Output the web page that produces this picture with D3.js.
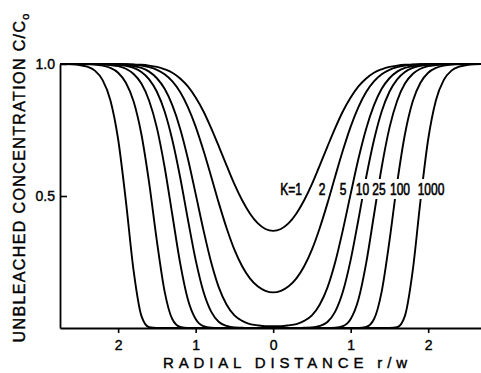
<!DOCTYPE html>
<html>
<head>
<meta charset="utf-8">
<script src="https://cdn.jsdelivr.net/npm/d3@7"></script>
<style>
  body { margin: 0; background: #fff; }
  svg { display: block; }
</style>
</head>
<body>
<script>
// radial distance r/w from the centre of the bleached spot (profiles are symmetric)
var dist = [0, 0.1, 0.2, 0.3, 0.4, 0.5, 0.6, 0.7, 0.8, 0.9,
            1.0, 1.1, 1.2, 1.3, 1.4, 1.5, 1.6, 1.7, 1.8, 1.9,
            2.0, 2.1, 2.2, 2.3, 2.4, 2.5, 2.6, 2.7, 2.8];

// unbleached concentration C/Co
var k1    = [0.368,0.375,0.397,0.434,0.484,0.545,0.615,0.687,0.757,0.821,0.873,0.915,0.945,0.967,0.980,0.989,0.994,0.997,0.998,0.999,1,1,1,1,1,1,1,1,1];
var k2    = [0.135,0.141,0.158,0.188,0.234,0.297,0.378,0.472,0.574,0.673,0.763,0.837,0.894,0.934,0.961,0.978,0.988,0.994,0.997,0.999,0.999,1,1,1,1,1,1,1,1];
var k5    = [0.007,0.007,0.010,0.015,0.027,0.048,0.088,0.153,0.249,0.372,0.508,0.641,0.755,0.843,0.906,0.946,0.971,0.985,0.992,0.996,0.998,0.999,1,1,1,1,1,1,1];
var k10   = [0,0,0,0,0.001,0.002,0.008,0.023,0.062,0.138,0.258,0.411,0.571,0.711,0.820,0.895,0.942,0.970,0.985,0.993,0.997,0.999,0.999,1,1,1,1,1,1];
var k25   = [0,0,0,0,0,0,0,0,0.001,0.007,0.034,0.108,0.246,0.427,0.609,0.758,0.861,0.926,0.962,0.982,0.992,0.996,0.998,0.999,1,1,1,1,1];
var k100  = [0,0,0,0,0,0,0,0,0,0,0,0,0.004,0.033,0.138,0.329,0.550,0.734,0.858,0.929,0.967,0.985,0.994,0.998,0.999,1,1,1,1];
var k1000 = [0,0,0,0,0,0,0,0,0,0,0,0,0,0,0,0,0.003,0.046,0.216,0.481,0.715,0.863,0.939,0.975,0.990,0.996,0.999,1,1];

var series = [k1, k2, k5, k10, k25, k100, k1000];
var curveLabels = ["K=1", "2", "5", "10", "25", "100", "1000"];

var xTicks = [-2, -1, 0, 1, 2];
var yTicks = [0.5, 1.0];

// set the dimensions
var width = 481, height = 373;

var svg = d3.select("body").append("svg")
    .attr("width", width)
    .attr("height", height);

// scales (pixel per r/w unit ~77.5)
var x = d3.scaleLinear().domain([-2.75, 2.72]).range([60, 484]);
var y = d3.scaleLinear().domain([0, 1]).range([328, 64]);

svg.append("clipPath")
    .attr("id", "plotclip")
  .append("rect")
    .attr("x", 60).attr("y", 40)
    .attr("width", 430).attr("height", 300);

// symmetric profile: mirror the distances onto both sides of the centre
function profile(vals) {
  var pts = [];
  for (var i = dist.length - 1; i > 0; i--) pts.push([-dist[i], vals[i]]);
  for (var j = 0; j < dist.length; j++) pts.push([dist[j], vals[j]]);
  return pts;
}

var line = d3.line()
    .curve(d3.curveMonotoneX)
    .x(function(d) { return x(d[0]); })
    .y(function(d) { return y(d[1]); });

svg.append("g")
    .attr("clip-path", "url(#plotclip)")
  .selectAll("path")
    .data(series)
    .enter()
    .append("path")
    .attr("d", function(d) { return line(profile(d)); })
    .attr("fill", "none")
    .attr("stroke", "#000")
    .attr("stroke-width", 1.9);

// x axis
var xAxis = svg.append("g")
    .attr("transform", "translate(0," + y(0) + ")")
    .call(d3.axisBottom(x)
      .tickValues(xTicks)
      .tickFormat(function(d) { return Math.abs(d); })
      .tickSize(5)
      .tickSizeOuter(0)
      .tickPadding(7));

// y axis
var yAxis = svg.append("g")
    .attr("transform", "translate(" + x.range()[0] + ",0)")
    .call(d3.axisLeft(y)
      .tickValues(yTicks)
      .tickFormat(d3.format(".1f"))
      .tickSize(-7)
      .tickSizeOuter(0)
      .tickPadding(5));

[xAxis, yAxis].forEach(function(g) {
  g.select(".domain").attr("stroke", "#000").attr("stroke-width", 1.8);
  g.selectAll(".tick line").attr("stroke", "#000").attr("stroke-width", 1.6);
  g.selectAll(".tick text")
      .attr("fill", "#000")
      .attr("stroke", "#000")
      .attr("stroke-width", 0.4)
      .attr("font-family", "Liberation Sans, Arial, sans-serif")
      .attr("font-size", 14);
});

// curve labels (narrow lettering), the curves are broken where the labels sit
var labelX = [291, 322, 343, 362.5, 379, 400, 431];
var labelW = [22, 7, 7, 13, 13, 20, 27];
var squeeze = 0.75;

svg.selectAll(".kgap")
    .data(curveLabels)
    .enter()
    .append("rect")
    .attr("class", "kgap")
    .attr("x", function(d, i) { return labelX[i] - labelW[i] / 2 - 1; })
    .attr("y", 179)
    .attr("width", function(d, i) { return labelW[i] + 2; })
    .attr("height", 20)
    .attr("fill", "#fff");

svg.selectAll(".klabel")
    .data(curveLabels)
    .enter()
    .append("text")
    .attr("class", "klabel")
    .attr("transform", function(d, i) {
      return "translate(" + labelX[i] + ",195) scale(" + squeeze + ",1)";
    })
    .attr("text-anchor", "middle")
    .attr("font-family", "Liberation Sans, Arial, sans-serif")
    .attr("font-size", 16)
    .attr("stroke", "#000")
    .attr("stroke-width", 0.6)
    .attr("fill", "#000")
    .text(function(d) { return d; });

// Axis labels
svg.append("text")
    .attr("x", 285)
    .attr("y", 368)
    .attr("text-anchor", "middle")
    .attr("font-family", "Liberation Sans, Arial, sans-serif")
    .attr("font-size", 15)
    .attr("stroke", "#000")
    .attr("stroke-width", 0.4)
    .attr("textLength", 244)
    .attr("lengthAdjust", "spacing")
    .text("RADIAL DISTANCE  r/w");

var ylab = svg.append("text")
    .attr("transform", "rotate(-90)")
    .attr("x", -178)
    .attr("y", 25)
    .attr("text-anchor", "middle")
    .attr("font-family", "Liberation Sans, Arial, sans-serif")
    .attr("font-size", 16)
    .attr("stroke", "#000")
    .attr("stroke-width", 0.4)
    .attr("textLength", 329)
    .attr("lengthAdjust", "spacing");
ylab.append("tspan").text("UNBLEACHED  CONCENTRATION  C/C");
ylab.append("tspan").attr("dy", 4).attr("font-size", 11).text("o");
</script>
</body>
</html>
